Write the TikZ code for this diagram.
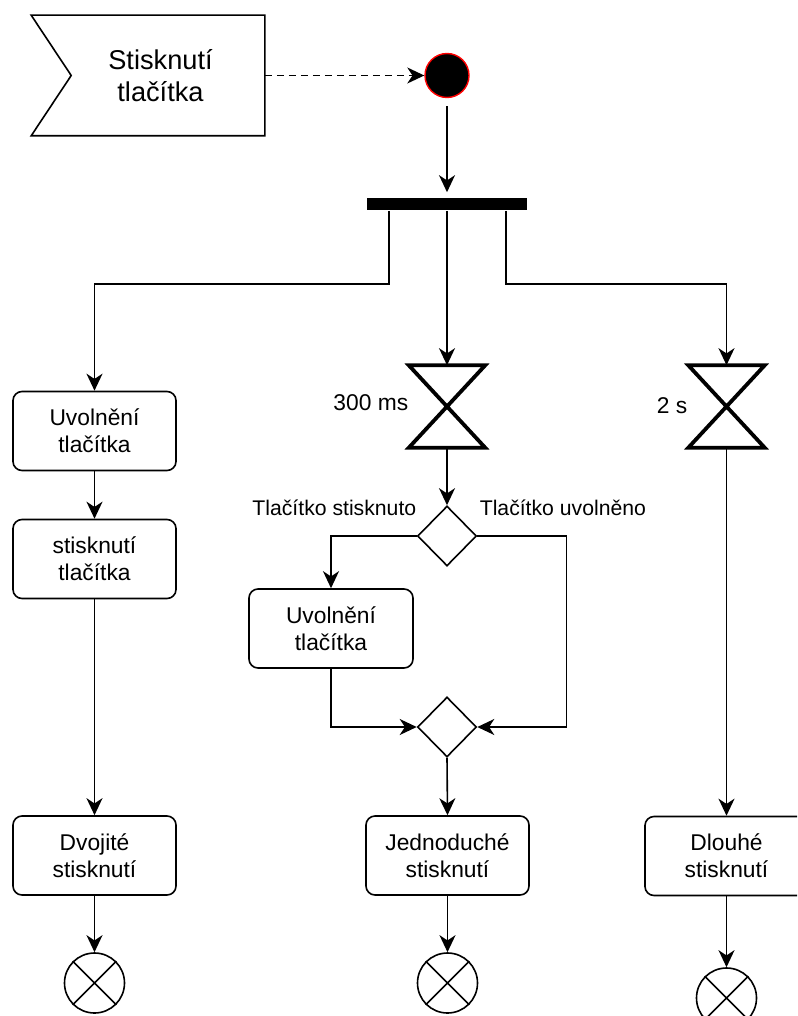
\documentclass[tikz,border=0pt]{standalone}
\usepackage{fontspec}
\setmainfont{Liberation Sans}
\usetikzlibrary{arrows.meta,shapes.geometric}

\begin{document}
\begin{tikzpicture}[x=0.5pt,y=-0.5pt,
  line width=0.8pt,
  arr/.style={-{Stealth[length=8.5pt,width=8pt,inset=2.6pt]}},
  act/.style={draw, rounded corners=4.5pt, minimum width=81.5pt, minimum height=39.5pt,
    align=center, font=\fontsize{11.4}{13.5}\selectfont, inner sep=0pt},
  gate/.style={draw, diamond, minimum width=29.5pt, minimum height=30pt, inner sep=0pt},
  timer/.style={minimum width=37.5pt, minimum height=40.5pt, inner sep=0pt},
  hourglass/.style={line width=1.9pt, line join=miter},
  final/.style={draw, circle, minimum size=30pt, inner sep=0pt},
  lbl/.style={font=\fontsize{11.4}{13.5}\selectfont, inner sep=0pt},
  guard/.style={font=\fontsize{10.6}{12.5}\selectfont, inner sep=0pt},
]
\useasboundingbox (0,0) rectangle (797,1016);
\clip (0,0) rectangle (797,1016);

% incoming signal
\node[minimum width=116pt, minimum height=59.5pt, inner sep=0pt] (sig) at (148,75.5) {};
\draw (sig.north west) -- (sig.north east) -- (sig.south east) -- (sig.south west)
  -- ([xshift=20pt]sig.west) -- cycle;
\node[font=\fontsize{13.6}{16}\selectfont, align=center, inner sep=0pt] (sigtext)
  at (160.5,76) {Stisknutí\\tlačítka};

% initial node and fork bar
\node[circle, draw=red, fill=black, minimum size=22pt, inner sep=0pt, line width=0.7pt]
  (start) at (447,75.5) {};
\node[fill=black, minimum width=80pt, minimum height=6pt, inner sep=0pt] (bar) at (447,204) {};

% left branch
\node[act] (u1) at (94.5,431) {Uvolnění\\tlačítka};
\node[act] (s1) at (94.5,559) {stisknutí\\tlačítka};
\node[act] (dv) at (94.5,855.5) {Dvojité\\stisknutí};
\node[final] (e1) at (94.5,983) {};

% middle branch
\node[timer] (t1) at (447,406.5) {};
\draw[hourglass] (t1.north west) -- (t1.north east) -- (t1.south west) -- (t1.south east) -- cycle;
\node[lbl, anchor=base east] (l300) at (409,410) {300 ms};
\node[gate] (d1) at (447,536) {};
\node[guard, anchor=base east] (gs) at (417,515) {Tlačítko stisknuto};
\node[guard, anchor=base west] (gu) at (479,515) {Tlačítko uvolněno};
\node[act, minimum width=82pt] (u2) at (331,628.5) {Uvolnění\\tlačítka};
\node[gate] (d2) at (447,727) {};
\node[act] (j) at (447.5,855.5) {Jednoduché\\stisknutí};
\node[final] (e2) at (447.5,983) {};

% right branch
\node[timer] (t2) at (726.5,406.5) {};
\draw[hourglass] (t2.north west) -- (t2.north east) -- (t2.south west) -- (t2.south east) -- cycle;
\node[lbl, anchor=base east] (l2) at (688,413) {2 s};
\node[act] (dl) at (726.5,856) {Dlouhé\\stisknutí};
\node[final] (e3) at (726.5,998) {};

% end markers
\foreach \e in {e1,e2,e3}{
  \draw (\e.north west) -- (\e.south east) (\e.north east) -- (\e.south west);
}

% connectors
\draw[arr, dash pattern=on 3.5pt off 2.5pt] (sig.east) -- (start.west);
\draw[arr, shorten <=4pt, shorten >=2.5pt] (start.south) -- (bar.north);
\draw[arr] ([xshift=-29pt]bar.south) -- ++(0,73) -| (u1.north);
\draw[arr] (bar.south) -- (t1.north);
\draw[arr] ([xshift=29.5pt]bar.south) -- ++(0,73) -| (t2.north);

\draw[arr] (u1.south) -- (s1.north);
\draw[arr] (s1.south) -- (dv.north);
\draw[arr] (dv.south) -- (e1.north);

\draw[arr] (t1.south) -- (d1.north);
\draw[arr] (d1.west) -| (u2.north);
\draw[arr] (d1.east) -- ++(89,0) |- (d2.east);
\draw[arr] (u2.south) |- (d2.west);
\draw[arr] (d2.south) -- (j.north);
\draw[arr] (j.south) -- (e2.north);

\draw[arr] (t2.south) -- (dl.north);
\draw[arr] (dl.south) -- (e3.north);
\end{tikzpicture}
\end{document}
